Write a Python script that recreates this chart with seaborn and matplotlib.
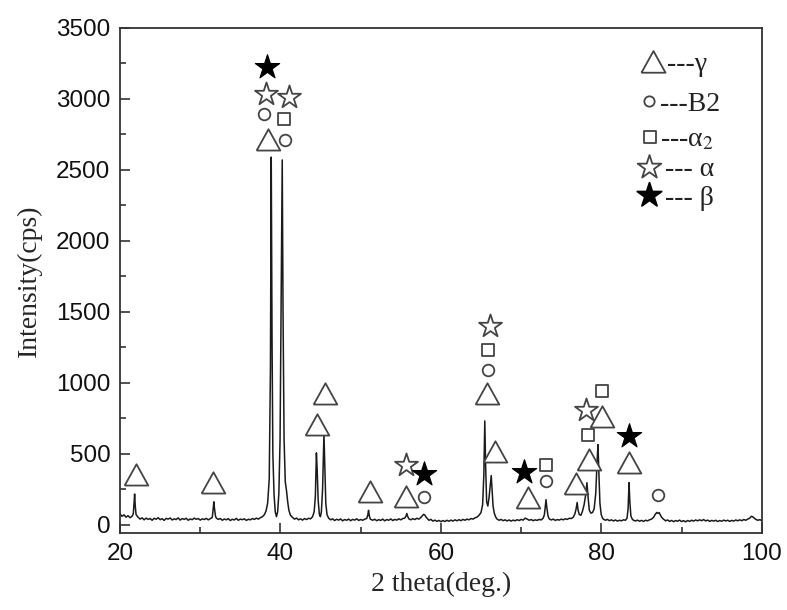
import numpy as np
import matplotlib
matplotlib.use('Agg')
import matplotlib.pyplot as plt
import seaborn as sns

sns.set_theme(style='ticks')
plt.rcParams['font.family'] = ['Liberation Sans', 'DejaVu Sans']
plt.rcParams['mathtext.fontset'] = 'stix'

# XRD scan
two_theta = [
    20.0, 20.25, 20.5, 20.75, 21.0, 21.25, 21.5,
    21.65, 21.75, 21.82, 21.9, 22.0,
    22.25, 22.5, 22.75, 23.0, 23.25, 23.5, 23.75, 24.0, 24.25, 24.5, 24.75, 25.0,
    25.25, 25.5, 25.75, 26.0, 26.25, 26.5, 26.75, 27.0, 27.25, 27.5, 27.75, 28.0,
    28.25, 28.5, 28.75, 29.0, 29.25, 29.5, 29.75, 30.0, 30.25, 30.5, 30.75, 31.0, 31.25,
    31.5, 31.62, 31.7, 31.78, 31.9, 32.0,
    32.25, 32.5, 32.75, 33.0, 33.25, 33.5, 33.75, 34.0, 34.25, 34.5, 34.75, 35.0,
    35.25, 35.5, 35.75, 36.0, 36.25, 36.5, 36.75, 37.0, 37.25, 37.5, 37.75,
    38.0, 38.2, 38.4, 38.6, 38.75, 38.85, 38.95, 39.05, 39.2, 39.35, 39.5, 39.65,
    39.8, 39.95, 40.1, 40.22, 40.32, 40.45, 40.6, 40.75, 40.9, 41.05, 41.25, 41.5,
    41.75, 42.0, 42.25, 42.5, 42.75, 43.0, 43.25, 43.5, 43.75,
    44.0, 44.2, 44.35, 44.48, 44.58, 44.7, 44.85, 44.98, 45.1, 45.25, 45.42, 45.52,
    45.65, 45.8, 46.0,
    46.25, 46.5, 46.75, 47.0, 47.25, 47.5, 47.75, 48.0, 48.25, 48.5, 48.75, 49.0,
    49.25, 49.5, 49.75, 50.0, 50.25, 50.5, 50.75,
    50.88, 50.98, 51.08, 51.2,
    51.5, 51.75, 52.0, 52.25, 52.5, 52.75, 53.0, 53.25, 53.5, 53.75, 54.0, 54.25,
    54.5, 54.75, 55.0, 55.25, 55.5,
    55.65, 55.75, 55.85, 56.0,
    56.25, 56.5, 56.75, 57.0, 57.25, 57.5,
    57.7, 57.85, 58.0, 58.15, 58.35,
    58.5, 58.75, 59.0, 59.25, 59.5, 59.75, 60.0, 60.25, 60.5, 60.75, 61.0, 61.25,
    61.5, 61.75, 62.0, 62.25, 62.5, 62.75, 63.0, 63.25, 63.5, 63.75, 64.0, 64.25,
    64.5, 64.75, 65.0, 65.2, 65.35, 65.47, 65.57, 65.7, 65.85, 66.0, 66.15, 66.27,
    66.38, 66.5, 66.65, 66.85, 67.0,
    67.25, 67.5, 67.75, 68.0, 68.25, 68.5, 68.75, 69.0, 69.25, 69.5, 69.75, 70.0,
    70.25, 70.5, 70.75, 71.0, 71.25, 71.5, 71.75, 72.0, 72.25, 72.5, 72.75,
    72.9, 73.02, 73.1, 73.2, 73.35, 73.5,
    73.75, 74.0, 74.25, 74.5, 74.75, 75.0, 75.25, 75.5, 75.75, 76.0, 76.25, 76.5,
    76.7, 76.85, 76.98, 77.1, 77.25, 77.45, 77.65, 77.85, 78.05, 78.2, 78.33, 78.5,
    78.7, 78.9, 79.1, 79.3, 79.47, 79.58, 79.68, 79.82, 79.98, 80.15,
    80.25, 80.5, 80.75, 81.0, 81.25, 81.5, 81.75, 82.0, 82.25, 82.5, 82.75, 83.0,
    83.2, 83.33, 83.45, 83.55, 83.68, 83.85,
    84.0, 84.25, 84.5, 84.75, 85.0, 85.25, 85.5, 85.75, 86.0, 86.25,
    86.5, 86.7, 86.9, 87.05, 87.2, 87.4, 87.6, 87.8,
    88.0, 88.25, 88.5, 88.75, 89.0, 89.25, 89.5, 89.75, 90.0, 90.25, 90.5, 90.75,
    91.0, 91.25, 91.5, 91.75, 92.0, 92.25, 92.5, 92.75, 93.0, 93.25, 93.5, 93.75,
    94.0, 94.25, 94.5, 94.75, 95.0, 95.25, 95.5, 95.75, 96.0, 96.25, 96.5, 96.75,
    97.0, 97.25, 97.5, 97.75, 98.0, 98.25,
    98.5, 98.7, 98.85, 99.0, 99.25, 99.5, 99.75, 100.0,
]
intensity = [
    75, 58, 68, 52, 62, 48, 58,
    75, 150, 215, 130, 70,
    52, 38, 47, 33, 45, 36, 42, 30, 44, 37, 48, 34,
    41, 29, 43, 38, 46, 32, 40, 35, 47, 31, 42, 36,
    44, 30, 39, 34, 45, 37, 42, 31, 40, 35, 43, 33, 41,
    50, 115, 160, 110, 60, 45,
    36, 42, 30, 39, 33, 41, 28, 37, 32, 43, 30, 38,
    34, 40, 29, 37, 33, 42, 36, 45, 38, 48, 55,
    70, 95, 150, 320, 1100, 2590, 1300, 500, 210, 90, 55, 90,
    220, 600, 1700, 2570, 1500, 600, 300, 240, 160, 100, 65, 50,
    38, 45, 33, 40, 31, 42, 35, 44, 40,
    55, 90, 200, 505, 380, 170, 70, 55, 90, 250, 640, 430,
    150, 70, 45,
    33, 40, 28, 37, 31, 39, 26, 35, 30, 38, 27, 36,
    31, 40, 29, 35, 30, 38, 42,
    65, 100, 60, 38,
    30, 37, 27, 34, 29, 38, 26, 35, 30, 39, 28, 36,
    31, 40, 33, 42, 45,
    60, 78, 58, 40,
    33, 41, 35, 44, 38, 50,
    62, 72, 66, 52, 40,
    30, 36, 24, 31, 22, 29, 20, 28, 21, 30, 23, 31,
    24, 33, 26, 34, 27, 36, 30, 38, 33, 42, 38, 47,
    52, 65, 85, 140, 350, 730, 420, 160, 130, 190, 280, 345,
    240, 130, 80, 50, 38,
    30, 36, 27, 33, 25, 32, 24, 31, 26, 34, 28, 36,
    31, 45, 38, 30, 35, 27, 33, 29, 36, 32, 45,
    70, 130, 175, 120, 60, 40,
    32, 38, 29, 35, 31, 38, 33, 40, 36, 44, 42, 52,
    75, 110, 155, 100, 70, 65, 95, 140, 210, 295, 200, 100,
    80, 85, 110, 220, 450, 563, 380, 150, 70, 45,
    38, 30, 36, 27, 33, 25, 32, 24, 30, 26, 33, 30,
    45, 110, 295, 160, 60, 38,
    30, 25, 31, 23, 29, 22, 30, 26, 33, 38,
    50, 70, 85, 78, 84, 62, 45, 35,
    26, 32, 22, 29, 20, 28, 23, 31, 21, 27, 19, 28,
    22, 30, 24, 32, 26, 33, 27, 35, 25, 31, 22, 29,
    24, 30, 21, 28, 23, 31, 25, 30, 22, 29, 24, 32,
    26, 33, 27, 35, 30, 38,
    45, 58, 55, 48, 36, 30, 34, 28,
]

# phase markers
gamma_x = [22.0, 31.6, 38.4, 44.6, 45.6, 51.1, 55.7, 65.8, 66.75, 70.8, 76.9, 78.4, 80.1, 83.4]
gamma_y = [352, 296, 2710, 704, 922, 228, 192, 918, 509, 190, 289, 458, 755, 436]
b2_x = [38.0, 40.6, 57.9, 65.9, 73.1, 87.0]
b2_y = [2893, 2710, 192, 1091, 310, 211]
alpha2_x = [40.5, 65.9, 73.1, 78.3, 80.1]
alpha2_y = [2858, 1232, 418, 634, 938]
alpha_x = [38.2, 41.1, 55.7, 66.1, 78.1]
alpha_y = [3032, 3015, 422, 1401, 810]
beta_x = [38.3, 57.9, 70.4, 83.5]
beta_y = [3227, 359, 368, 622]

legend_labels = ['---γ', '---B2', '---α$_2$', '--- α', '--- β']

tri = [(-1, -0.85), (1, -0.85), (0, 0.95), (-1, -0.85)]
edge = '#444444'
serif = ['Liberation Serif', 'DejaVu Serif']

fig = plt.figure(figsize=(7.87, 6.10), dpi=100)
ax = fig.add_axes([0.1525, 0.1262, 0.8155, 0.8279])

sns.lineplot(x=two_theta, y=intensity, ax=ax, color='#1a1a1a', linewidth=1.1,
             sort=False, estimator=None)

open_kw = dict(facecolor='white', edgecolor=edge, linewidth=1.3, zorder=3, ax=ax)
sns.scatterplot(x=gamma_x, y=gamma_y, marker=tri, s=290, **open_kw)
sns.scatterplot(x=b2_x, y=b2_y, marker='o', s=70, **open_kw)
sns.scatterplot(x=alpha2_x, y=alpha2_y, marker='s', s=85, **open_kw)
sns.scatterplot(x=alpha_x, y=alpha_y, marker='*', s=300, **open_kw)
sns.scatterplot(x=beta_x, y=beta_y, marker='*', s=340, color='black',
                edgecolor='black', linewidth=0.8, zorder=3, ax=ax)

# hand-placed key, top right
key_marks = [(tri, 300, 'white', edge), ('o', 55, 'white', edge), ('s', 70, 'white', edge),
             ('*', 320, 'white', edge), ('*', 340, 'black', 'black')]
key_x = [0.830, 0.824, 0.826, 0.824, 0.824]
key_y = [0.933, 0.855, 0.784, 0.725, 0.669]
text_x = [0.852, 0.842, 0.842, 0.849, 0.849]
for (m, s, fc, ec), kx, ky, tx, lab in zip(key_marks, key_x, key_y, text_x, legend_labels):
    ax.scatter([kx], [ky], marker=m, s=s, facecolor=fc, edgecolor=ec, linewidth=1.3,
               transform=ax.transAxes, zorder=4, clip_on=False)
    ax.text(tx, ky, lab, transform=ax.transAxes, fontsize=20, va='center_baseline',
            ha='left', family=serif, color='#222222')

ax.set_xlim(20, 100)
ax.set_ylim(-60, 3500)
ax.set_xticks([20, 40, 60, 80, 100])
ax.set_xticks([30, 50, 70, 90], minor=True)
ax.set_yticks(np.arange(0, 3501, 500))
ax.set_yticks(np.arange(250, 3500, 500), minor=True)
ax.tick_params(which='both', direction='in', top=False, right=False,
               labelsize=17.5, pad=7, color='#333333', width=1.2, labelcolor='#111111')
ax.tick_params(which='major', length=7)
ax.tick_params(which='minor', length=4)
for sp in ax.spines.values():
    sp.set_visible(True)
    sp.set_linewidth(1.3)
    sp.set_color('#333333')

ax.set_xlabel('2 theta(deg.)', fontsize=20, family=serif, labelpad=5)
ax.set_ylabel('Intensity(cps)', fontsize=20, family=serif, labelpad=10)

fig.savefig('out.png', dpi=100)
